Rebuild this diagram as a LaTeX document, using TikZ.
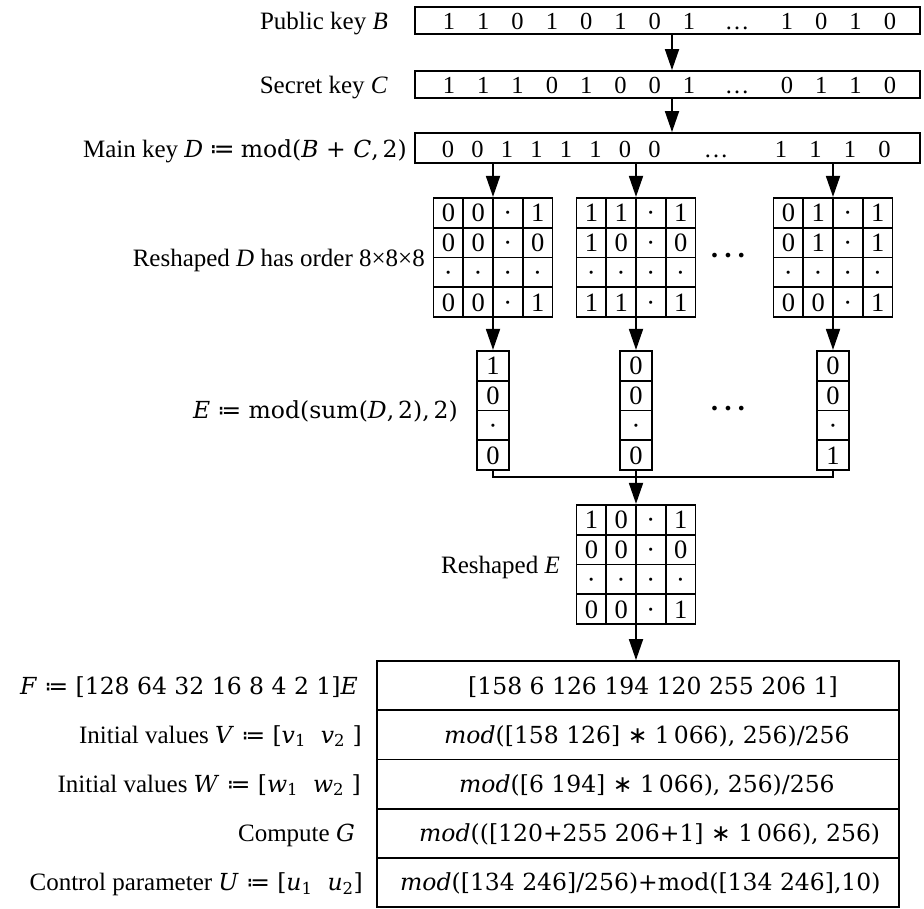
\documentclass[tikz,border=0pt]{standalone}
\usepackage{fontspec}
\setmainfont{Liberation Serif}
\newfontfamily\dv{DejaVu Serif}
\newfontfamily\dvs{DejaVu Sans}
\usetikzlibrary{arrows.meta,matrix,calc}
\newcommand\dfq{{\dvs ≔}}
\newcommand\astop{{\dvs ∗}}
\newcommand\mth{\dv\fontsize{23.5}{28}\selectfont}
\tikzset{
  lw/.style={line width=1.8pt},
  lbl/.style={anchor=base east, inner sep=0pt, font=\fontsize{25}{28}\selectfont},
  keybox/.style={draw, lw, minimum width=505pt, minimum height=27pt, inner sep=0pt},
  dig/.style={anchor=base, inner sep=0pt, font=\fontsize{24.5}{28}\selectfont},
  arr/.style={-{Triangle[length=21pt,width=14pt]}, lw},
  gridm/.style={matrix of nodes, inner sep=0pt, column sep=-1.8pt, row sep=-1.8pt,
    nodes={draw, lw, anchor=center, minimum width=29.75pt, minimum height=29.75pt,
      inner sep=0pt, text height=18pt, text depth=0pt, font=\fontsize{26.5}{28}\selectfont}},
  colm/.style={gridm, nodes={minimum width=32pt}},
  trow/.style={draw, lw, minimum width=522pt, minimum height=49.2pt, inner sep=0pt},
  ttxt/.style={anchor=base west, inner sep=0pt, font=\mth},
  ell/.style={inner sep=0pt, font=\fontsize{16}{20}\dvs}
}
\begin{document}
\begin{tikzpicture}[x=1pt,y=-1pt]
\useasboundingbox (0,0) rectangle (924,908);

% key boxes
\node[keybox] (B) at (667.5,20.5) {};
\node[keybox] (C) at (667.5,84.5) {};
\node[keybox, minimum height=30pt] (D) at (667.5,148) {};

\foreach \x/\d [count=\i] in {449/1,483.3/1,517.6/0,551.9/1,586.2/0,620.5/1,654.8/0,689.1/1,737/…,787/1,821.3/0,855.6/1,889.9/0}
  \node[dig] (b\i) at (\x,29.5) {\d};
\foreach \x/\d [count=\i] in {449/1,483.3/1,517.6/1,551.9/0,586.2/1,620.5/0,654.8/0,689.1/1,737/…,787/0,821.3/1,855.6/1,889.9/0}
  \node[dig] (c\i) at (\x,93.5) {\d};
\foreach \x/\d [count=\i] in {448/0,477.5/0,507/1,536.5/1,566/1,595.5/1,625/0,654.5/0,716/…,781/1,815.5/1,850/1,884.5/0}
  \node[dig] (d\i) at (\x,157) {\d};

\node[lbl] (lB) at (388,29) {Public key \textit{B}};
\node[lbl] (lC) at (388,93) {Secret key \textit{C}};
\node[lbl] (lD) at (407,157) {Main key {\mth\itshape D} \dfq{} {\mth mod(\textit{B} + \textit{C},\,2)}};

\coordinate (k) at (672,0);
\draw[arr] (B.south -| k) -- (C.north -| k);
\draw[arr] (C.south -| k) -- (D.north -| k);

% reshaped D
\matrix (g1) at (493,257.5) [gridm] {0&0&·&1\\0&0&·&0\\·&·&·&·\\0&0&·&1\\};
\matrix (g2) at (636,257.5) [gridm] {1&1&·&1\\1&0&·&0\\·&·&·&·\\1&1&·&1\\};
\matrix (g3) at (833,257.5) [gridm] {0&1&·&1\\0&1&·&1\\·&·&·&·\\0&0&·&1\\};
\node[ell] (e1) at (728,257.5) {•\kern4pt•\kern4pt•};
\node[lbl] (lRD) at (425,266) {Reshaped \textit{D} has order 8×8×8};

\draw[arr] (D.south -| g1) -- (g1.north);
\draw[arr] (D.south -| g2) -- (g2.north);
\draw[arr] (D.south -| g3) -- (g3.north);

% E vectors
\matrix (v1) at (493,410.5) [colm] {1\\0\\·\\0\\};
\matrix (v2) at (636,410.5) [colm] {0\\0\\·\\0\\};
\matrix (v3) at (833,410.5) [colm] {0\\0\\·\\1\\};
\node[ell] (e2) at (728,410.5) {•\kern4pt•\kern4pt•};
\node[lbl, font=\mth] (lE) at (458,418.5) {\textit{E} \dfq{} mod(sum(\textit{D},\,2),\,2)};

\draw[arr] (g1.south) -- (v1.north);
\draw[arr] (g2.south) -- (v2.north);
\draw[arr] (g3.south) -- (v3.north);

% reshaped E
\matrix (Em) at (636,564.5) [gridm] {1&0&·&1\\0&0&·&0\\·&·&·&·\\0&0&·&1\\};
\node[lbl] (lRE) at (560,573) {Reshaped \textit{E}};

\coordinate (j) at (636,477);
\draw[lw] (v1.south) -- (v1.south |- j) -- (v3.south |- j) -- (v3.south);
\draw[arr] (v2.south) -- (Em.north);

% table
\node[trow] (t1) at (638,685.6) {};
\node[trow] (t2) at (638,734.8) {};
\node[trow] (t3) at (638,784) {};
\node[trow] (t4) at (638,833.2) {};
\node[trow] (t5) at (638,882.4) {};
\draw[arr] (Em.south) -- (Em.south |- t1.north);

\node[ttxt] (x1) at (468,694) {[158 6 126 194 120 255 206 1]};
\node[ttxt] (x2) at (444,743) {\textit{mod}([158 126] \astop{} 1\,066), 256)/256};
\node[ttxt] (x3) at (459,792) {\textit{mod}([6 194] \astop{} 1\,066), 256)/256};
\node[ttxt] (x4) at (419,841.5) {\textit{mod}(([120+255 206+1] \astop{} 1\,066), 256)};
\node[ttxt] (x5) at (400,890.5) {\textit{mod}([134 246]/256)+mod([134 246],10)};

\node[lbl] (lF) at (358,694) {{\mth \textit{F} \dfq{} [128 64 32 16 8 4 2 1]\textit{E}}};
\node[lbl] (lV) at (362,743) {Initial values {\mth \textit{V} \dfq{} [\textit{v}\textsubscript{1}\ \ \textit{v}\textsubscript{2} ]}};
\node[lbl] (lW) at (361,792) {Initial values {\mth \textit{W} \dfq{} [\textit{w}\textsubscript{1}\ \ \textit{w}\textsubscript{2} ]}};
\node[lbl] (lG) at (355,841.5) {Compute {\mth\itshape G}};
\node[lbl] (lU) at (363,890.5) {Control parameter {\mth \textit{U} \dfq{} [\textit{u}\textsubscript{1}\ \ \textit{u}\textsubscript{2}]}};
\end{tikzpicture}
\end{document}
